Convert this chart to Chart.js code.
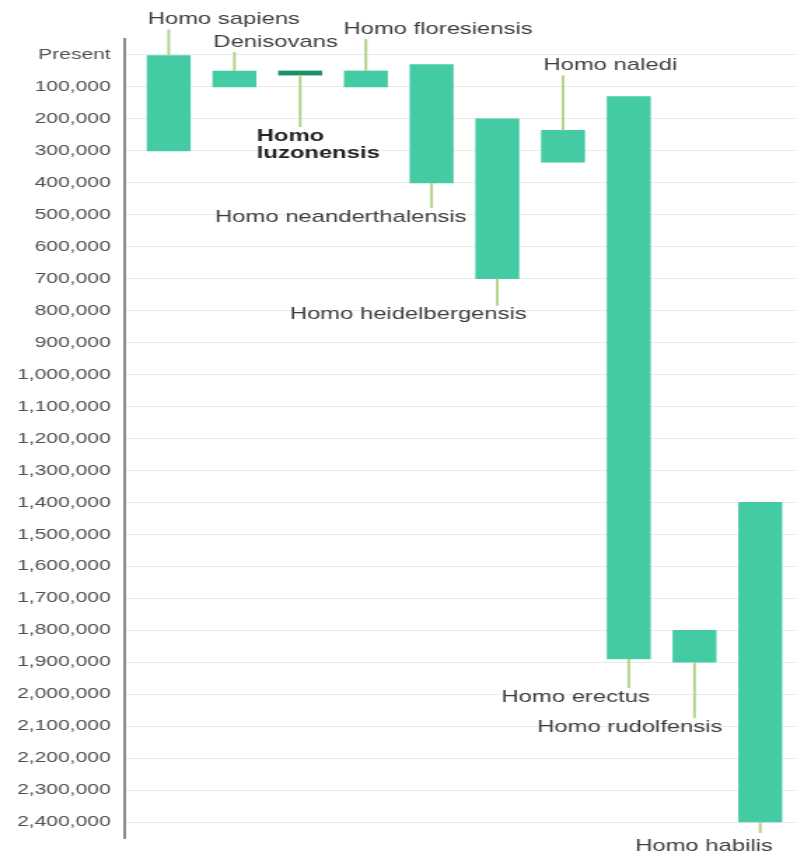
<!DOCTYPE html>
<html><head><meta charset="utf-8">
<script src="https://cdn.jsdelivr.net/npm/chart.js@4"></script>
<style>
html,body{margin:0;padding:0;background:#fff;overflow:hidden}
/* the reference is stretched sideways, so draw narrow and widen */
#wrap{width:569px;height:852px;transform:scaleX(1.4007);transform-origin:0 0}
</style></head><body>
<div id="wrap"><canvas id="c" width="569" height="852"></canvas></div>
<script>
const species = ["Homo sapiens","Denisovans","Homo luzonensis","Homo floresiensis","Homo neanderthalensis",
  "Homo heidelbergensis","Homo naledi","Homo erectus","Homo rudolfensis","Homo habilis"];
const startYears = [0, 50000, 50000, 50000, 30000, 200000, 236000, 130000, 1800000, 1400000];
const endYears = [300000, 100000, 63000, 100000, 400000, 700000, 335000, 1890000, 1900000, 2400000];
const yTicks = [0,100000,200000,300000,400000,500000,600000,700000,800000,900000,1000000,1100000,1200000,
  1300000,1400000,1500000,1600000,1700000,1800000,1900000,2000000,2100000,2200000,2300000,2400000];
const highlight = "Homo luzonensis";

// label placement: which end the leader leaves from, its length, text anchor offset from bar centre
const placement = [
  {side:"top", len:26, dx:-15, align:"left"},
  {side:"top", len:19, dx:-15, align:"left"},
  {side:"bottom", len:52, dx:-31, align:"left", bold:true, wrap:true},
  {side:"top", len:32, dx:-16, align:"left"},
  {side:"bottom", len:25, dx:25, align:"right"},
  {side:"bottom", len:27, dx:21, align:"right"},
  {side:"top", len:55, dx:-14, align:"left"},
  {side:"bottom", len:29, dx:15, align:"right"},
  {side:"bottom", len:56, dx:20, align:"right"},
  {side:"bottom", len:11, dx:9, align:"right", gap:13}
];

const labelPlugin = {
  id: "speciesLabels",
  afterDatasetsDraw(chart){
    const ctx = chart.ctx;
    chart.getDatasetMeta(0).data.forEach((bar, i) => {
      const p = placement[i];
      const top = Math.min(bar.y, bar.base), bottom = Math.max(bar.y, bar.base);
      const y0 = p.side === "top" ? top : bottom;
      const y1 = p.side === "top" ? y0 - p.len : y0 + p.len;
      ctx.save();
      ctx.strokeStyle = "#b3d38b"; ctx.lineWidth = 2;
      ctx.beginPath(); ctx.moveTo(bar.x, y0); ctx.lineTo(bar.x, y1); ctx.stroke();
      const lines = p.wrap ? species[i].split(" ") : [species[i]];
      ctx.font = (p.bold ? "bold " : "") + '17px "Liberation Sans", Arial, sans-serif';
      ctx.fillStyle = p.bold ? "#222" : "#3d3d3d";
      ctx.textAlign = p.align; ctx.textBaseline = "middle";
      const gap = p.gap || (p.side === "top" ? 10 : 9);
      lines.forEach((t, k) => {
        const y = p.side === "top" ? y1 - gap - (lines.length - 1 - k) * 17 : y1 + gap + k * 17;
        ctx.fillText(t, bar.x + p.dx, y);
      });
      ctx.restore();
    });
  }
};

new Chart(document.getElementById("c"), {
  type: "bar",
  data: {datasets: [{
    data: species.map((s, i) => ({x: i + 1, y: [startYears[i], endYears[i]]})),
    backgroundColor: c => species[c.dataIndex] === highlight ? "#1f8f67" : "#44cba4",
    barThickness: 30.7, borderSkipped: false
  }]},
  options: {
    responsive: false, animation: false,
    layout: {padding: {top: 39, bottom: 14, left: 0, right: 0}},
    plugins: {legend: {display: false}, tooltip: {enabled: false}},
    scales: {
      x: {type: "linear", min: 0.33, max: 10.56, display: false, offset: false},
      y: {
        reverse: true, min: -50000, max: 2450000,
        afterBuildTicks: s => { s.ticks = yTicks.map(v => ({value: v})); },
        afterFit: s => { s.width = 89; s.paddingTop = 0; s.paddingBottom = 0; },
        grid: {color: "#ebebeb", drawTicks: false},
        border: {color: "#8a8a8a", width: 2},
        ticks: {padding: 10, color: "#4f4f4f", autoSkip: false,
          font: {family: '"Liberation Sans", Arial, sans-serif', size: 15},
          callback: v => v === 0 ? "Present" : v.toLocaleString("en-US")}
      }
    }
  },
  plugins: [labelPlugin]
});
</script>
</body></html>
